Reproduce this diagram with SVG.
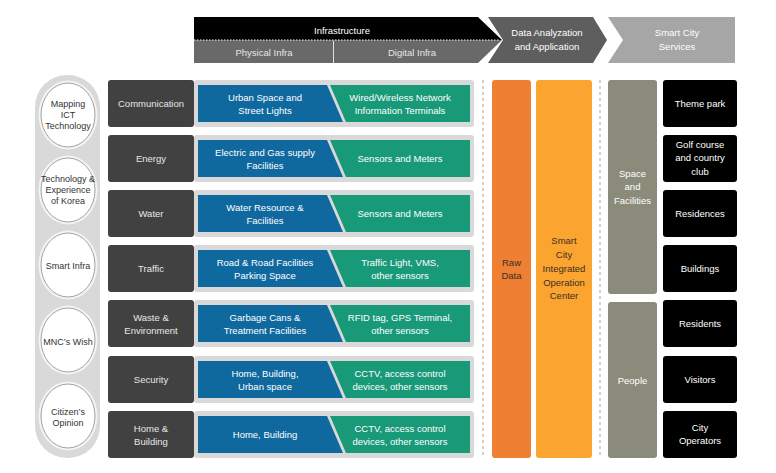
<svg xmlns="http://www.w3.org/2000/svg" width="776" height="473" viewBox="0 0 776 473">
<style>
text{font-family:"Liberation Sans",Arial,sans-serif;font-size:9.5px;text-anchor:middle}
.w{fill:#ffffff}
.lw{fill:#e6e6e6}
.dk{fill:#3a2f25}
.c{font-size:9px;fill:#333333}
.cat{fill:#414141}
.bg{fill:#d9d9d9}
.blue{fill:#10699e}
.green{fill:#189978}
.blk{fill:#000000}
.dash{stroke:#b79a9a;stroke-width:1;stroke-dasharray:3,3;fill:none}
.halo{fill:#f4f4f4}
.circ{fill:#ffffff;stroke:#8a8a8a;stroke-width:0.8}
</style>
<rect width="776" height="473" fill="#ffffff"/>

<g id="header">
  <g id="infrastructure">
    <polygon points="194,17 478,17 502,40 194,40" fill="#000000"/>
    <polygon points="194,40 502,40 478,63 194,63" fill="#696969"/>
    <line x1="194" y1="40" x2="500" y2="40" stroke="#ffffff" stroke-width="1" stroke-dasharray="1.5,1.5"/>
    <line x1="333.5" y1="41" x2="333.5" y2="63" stroke="#e0e0e0" stroke-width="1"/>
    <text class="w" x="342" y="33.5">Infrastructure</text>
    <text class="lw" x="264" y="55.5">Physical Infra</text>
    <text class="lw" x="412" y="56">Digital Infra</text>
  </g>
  <g id="data-analyzation">
    <polygon points="488,17 593,17 607,40 593,63 488,63 503,40" fill="#5e5e5e"/>
    <text class="w" x="547" y="35.5">Data Analyzation</text>
    <text class="w" x="547" y="49.5">and Application</text>
  </g>
  <g id="smart-city-services">
    <polygon points="608,17 735,17 735,63 608,63 623,40" fill="#a6a6a6"/>
    <text class="w" x="677" y="35.5">Smart City</text>
    <text class="w" x="677" y="49.5">Services</text>
  </g>
</g>

<g id="left-pill">
  <rect x="35" y="75" width="65" height="383" rx="32" fill="#d9d9d9"/>
  <g id="c1">
    <ellipse class="halo" cx="68" cy="115" rx="29.5" ry="34.5"/>
    <ellipse class="circ" cx="68" cy="115" rx="27" ry="32"/>
    <text class="c" x="68" y="106.5">Mapping</text>
    <text class="c" x="68" y="118">ICT</text>
    <text class="c" x="68" y="129">Technology</text>
  </g>
  <g id="c2">
    <ellipse class="halo" cx="68" cy="190" rx="29.5" ry="34.5"/>
    <ellipse class="circ" cx="68" cy="190" rx="27" ry="32"/>
    <text class="c" x="68" y="181.5">Technology &amp;</text>
    <text class="c" x="68" y="193">Experience</text>
    <text class="c" x="68" y="204">of Korea</text>
  </g>
  <g id="c3">
    <ellipse class="halo" cx="68" cy="265" rx="29.5" ry="34.5"/>
    <ellipse class="circ" cx="68" cy="265" rx="27" ry="32"/>
    <text class="c" x="68" y="268.5">Smart Infra</text>
  </g>
  <g id="c4">
    <ellipse class="halo" cx="68" cy="340" rx="29.5" ry="34.5"/>
    <ellipse class="circ" cx="68" cy="340" rx="27" ry="32"/>
    <text class="c" x="68" y="345">MNC’s Wish</text>
  </g>
  <g id="c5">
    <ellipse class="halo" cx="68" cy="416" rx="29.5" ry="34.5"/>
    <ellipse class="circ" cx="68" cy="416" rx="27" ry="32"/>
    <text class="c" x="68" y="414.5">Citizen’s</text>
    <text class="c" x="68" y="426">Opinion</text>
  </g>
</g>

<g id="connectors">
  <line class="dash" x1="483" y1="80" x2="483" y2="458"/>
  <line class="dash" x1="600" y1="80" x2="600" y2="458"/>
</g>

<g id="row1">
  <rect class="cat" x="108" y="80" width="86" height="47" rx="3"/>
  <text class="lw" x="151" y="107">Communication</text>
  <rect class="bg" x="194" y="80" width="280" height="47" rx="3"/>
  <polygon class="blue" points="198,85 327,85 343,122 198,122"/>
  <polygon class="green" points="330,85 470,85 470,122 346,122"/>
  <text class="w" x="265" y="100.5">Urban Space and</text>
  <text class="w" x="265" y="113.5">Street Lights</text>
  <text class="w" x="400" y="100.5">Wired/Wireless Network</text>
  <text class="w" x="400" y="113.5">Information Terminals</text>
</g>
<g id="row2">
  <rect class="cat" x="108" y="135" width="86" height="47" rx="3"/>
  <text class="lw" x="151" y="162">Energy</text>
  <rect class="bg" x="194" y="135" width="280" height="47" rx="3"/>
  <polygon class="blue" points="198,140 327,140 343,177 198,177"/>
  <polygon class="green" points="330,140 470,140 470,177 346,177"/>
  <text class="w" x="265" y="155.5">Electric and Gas supply</text>
  <text class="w" x="265" y="168.5">Facilities</text>
  <text class="w" x="400" y="162">Sensors and Meters</text>
</g>
<g id="row3">
  <rect class="cat" x="108" y="190" width="86" height="47" rx="3"/>
  <text class="lw" x="151" y="217">Water</text>
  <rect class="bg" x="194" y="190" width="280" height="47" rx="3"/>
  <polygon class="blue" points="198,195 327,195 343,232 198,232"/>
  <polygon class="green" points="330,195 470,195 470,232 346,232"/>
  <text class="w" x="265" y="210.5">Water Resource &amp;</text>
  <text class="w" x="265" y="223.5">Facilities</text>
  <text class="w" x="400" y="217">Sensors and Meters</text>
</g>
<g id="row4">
  <rect class="cat" x="108" y="245" width="86" height="47" rx="3"/>
  <text class="lw" x="151" y="272">Traffic</text>
  <rect class="bg" x="194" y="245" width="280" height="47" rx="3"/>
  <polygon class="blue" points="198,250 327,250 343,287 198,287"/>
  <polygon class="green" points="330,250 470,250 470,287 346,287"/>
  <text class="w" x="265" y="265.5">Road &amp; Road Facilities</text>
  <text class="w" x="265" y="278.5">Parking Space</text>
  <text class="w" x="400" y="265.5">Traffic Light, VMS,</text>
  <text class="w" x="400" y="278.5">other sensors</text>
</g>
<g id="row5">
  <rect class="cat" x="108" y="300" width="86" height="47" rx="3"/>
  <text class="lw" x="151" y="320.5">Waste &amp;</text>
  <text class="lw" x="151" y="333.5">Environment</text>
  <rect class="bg" x="194" y="300" width="280" height="47" rx="3"/>
  <polygon class="blue" points="198,305 327,305 343,342 198,342"/>
  <polygon class="green" points="330,305 470,305 470,342 346,342"/>
  <text class="w" x="265" y="320.5">Garbage Cans &amp;</text>
  <text class="w" x="265" y="333.5">Treatment Facilities</text>
  <text class="w" x="400" y="320.5">RFID tag, GPS Terminal,</text>
  <text class="w" x="400" y="333.5">other sensors</text>
</g>
<g id="row6">
  <rect class="cat" x="108" y="356" width="86" height="47" rx="3"/>
  <text class="lw" x="151" y="383">Security</text>
  <rect class="bg" x="194" y="356" width="280" height="47" rx="3"/>
  <polygon class="blue" points="198,361 327,361 343,398 198,398"/>
  <polygon class="green" points="330,361 470,361 470,398 346,398"/>
  <text class="w" x="265" y="376.5">Home, Building,</text>
  <text class="w" x="265" y="389.5">Urban space</text>
  <text class="w" x="400" y="376.5">CCTV, access control</text>
  <text class="w" x="400" y="389.5">devices, other sensors</text>
</g>
<g id="row7">
  <rect class="cat" x="108" y="411" width="86" height="47" rx="3"/>
  <text class="lw" x="151" y="431.5">Home &amp;</text>
  <text class="lw" x="151" y="444.5">Building</text>
  <rect class="bg" x="194" y="411" width="280" height="47" rx="3"/>
  <polygon class="blue" points="198,416 327,416 343,453 198,453"/>
  <polygon class="green" points="330,416 470,416 470,453 346,453"/>
  <text class="w" x="265" y="438">Home, Building</text>
  <text class="w" x="400" y="431.5">CCTV, access control</text>
  <text class="w" x="400" y="444.5">devices, other sensors</text>
</g>

<g id="raw-data">
  <rect x="492" y="80" width="39" height="378" rx="3" fill="#ef7f32"/>
  <text class="dk" x="511.5" y="265.5">Raw</text>
  <text class="dk" x="511.5" y="278.5">Data</text>
</g>
<g id="operation-center">
  <rect x="536" y="80" width="56" height="378" rx="3" fill="#fba42f"/>
  <text class="dk" x="564" y="243.5">Smart</text>
  <text class="dk" x="564" y="257.5">City</text>
  <text class="dk" x="564" y="271.5">Integrated</text>
  <text class="dk" x="564" y="285.5">Operation</text>
  <text class="dk" x="564" y="299">Center</text>
</g>

<g id="space-facilities">
  <rect x="608" y="80" width="49" height="214" rx="3" fill="#8b8b7b"/>
  <text class="w" x="632.5" y="176.5">Space</text>
  <text class="w" x="632.5" y="190">and</text>
  <text class="w" x="632.5" y="203.5">Facilities</text>
</g>
<g id="people">
  <rect x="608" y="302" width="49" height="156" rx="3" fill="#8b8b7b"/>
  <text class="w" x="632.5" y="383.5">People</text>
</g>

<g id="svc-theme-park">
  <rect class="blk" x="663" y="80" width="74" height="47" rx="3"/>
  <text class="w" x="700" y="107">Theme park</text>
</g>
<g id="svc-golf">
  <rect class="blk" x="663" y="135" width="74" height="47" rx="3"/>
  <text class="w" x="700" y="147.5">Golf course</text>
  <text class="w" x="700" y="161">and country</text>
  <text class="w" x="700" y="174.5">club</text>
</g>
<g id="svc-residences">
  <rect class="blk" x="663" y="190" width="74" height="47" rx="3"/>
  <text class="w" x="700" y="217">Residences</text>
</g>
<g id="svc-buildings">
  <rect class="blk" x="663" y="245" width="74" height="47" rx="3"/>
  <text class="w" x="700" y="272">Buildings</text>
</g>
<g id="svc-residents">
  <rect class="blk" x="663" y="300" width="74" height="47" rx="3"/>
  <text class="w" x="700" y="327">Residents</text>
</g>
<g id="svc-visitors">
  <rect class="blk" x="663" y="356" width="74" height="47" rx="3"/>
  <text class="w" x="700" y="383">Visitors</text>
</g>
<g id="svc-city-operators">
  <rect class="blk" x="663" y="411" width="74" height="47" rx="3"/>
  <text class="w" x="700" y="430.5">City</text>
  <text class="w" x="700" y="444">Operators</text>
</g>
</svg>
